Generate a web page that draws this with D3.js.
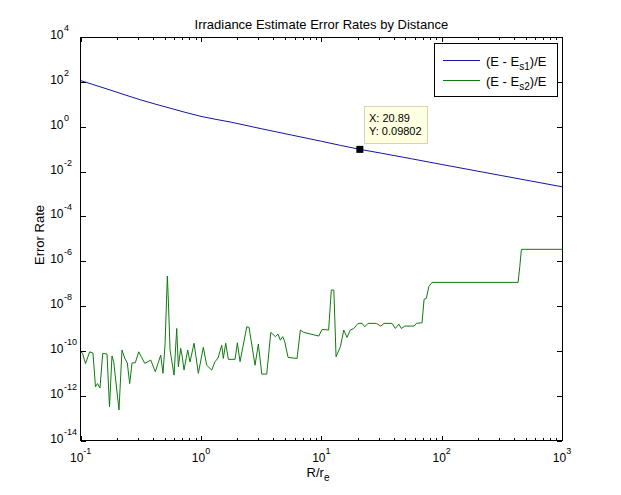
<!DOCTYPE html>
<html><head><meta charset="utf-8">
<script src="https://cdn.jsdelivr.net/npm/d3@7"></script>
<style>
body{margin:0;background:#fff}
text{font-family:"Liberation Sans",Arial,sans-serif;fill:#000}
</style>
</head><body><svg id="c" width="621" height="495"></svg>
<script>
// ---------- data ----------
const titleText = "Irradiance Estimate Error Rates by Distance";
const xTickExps = [-1, 0, 1, 2, 3];
const yTickExps = [4, 2, 0, -2, -4, -6, -8, -10, -12, -14];

const blueX = [0.1, 0.178, 0.316, 0.562, 1, 1.78, 3.16, 5.62, 10, 20.89, 31.6, 100, 316, 1000];
const blueY = [115, 42.6, 15.7, 6.6, 2.9, 1.6, 0.82, 0.43, 0.225, 0.09802, 0.066, 0.0208, 0.0066, 0.0021];

const greenX = [0.1, 0.1035, 0.1096, 0.1188, 0.1265, 0.1327, 0.138, 0.1446, 0.1524, 0.1655, 0.1735, 0.182, 0.188, 0.208, 0.2204, 0.232, 0.2439, 0.2554, 0.267, 0.2844, 0.3034, 0.319, 0.3404, 0.3624, 0.382, 0.417, 0.4395, 0.4624, 0.483, 0.502, 0.525, 0.535, 0.553, 0.597, 0.628, 0.648, 0.678, 0.699, 0.722, 0.775, 0.81, 0.875, 0.95, 1.045, 1.115, 1.227, 1.307, 1.385, 1.486, 1.532, 1.604, 1.687, 1.918, 2.004, 2.11, 2.40, 2.506, 2.81, 2.995, 3.20, 3.516, 3.80, 4.15, 4.365, 4.56, 4.775, 4.965, 5.29, 6.28, 6.69, 7.14, 9.52, 10.14, 11.5, 12.1, 12.7, 13.25, 14.4, 15.35, 16.35, 17.4, 18.6, 20.2, 21.8, 22.95, 24.45, 28.65, 31.2, 33.2, 38.7, 41.2, 44.0, 46.2, 49.3, 59.0, 61.7, 68.7, 71.4, 74.6, 78.1, 83.2, 431.5, 445.7, 459.8, 1000];
const greenY = [8.8e-11, 8.0e-11, 2.7e-11, 9.1e-11, 8.0e-11, 2.5e-12, 3.5e-12, 2.2e-12, 7.7e-11, 7.2e-11, 3.2e-13, 5.9e-11, 3.3e-11, 2.3e-13, 1.09e-10, 4.8e-11, 2.9e-11, 3.5e-12, 2.9e-11, 2.95e-11, 9.1e-11, 5.5e-11, 2.8e-11, 3.3e-11, 3.9e-11, 1.17e-11, 2.8e-11, 6.5e-11, 9.9e-12, 1.8e-10, 2.2e-7, 1.85e-8, 1.09e-10, 8.3e-12, 1.0e-9, 1.95e-11, 1.3e-10, 5.3e-11, 1.39e-11, 1.09e-10, 3.2e-11, 2.2e-10, 9.9e-12, 1.44e-10, 2.3e-11, 1.39e-11, 3.3e-11, 4.8e-11, 1.8e-10, 4.6e-11, 2.2e-10, 4.2e-11, 4.2e-11, 2.3e-10, 3.3e-11, 1.19e-9, 1.12e-9, 2.3e-11, 2.0e-10, 9.2e-12, 9.2e-12, 6.7e-10, 4.3e-10, 5.6e-10, 3.0e-10, 4.3e-10, 2.55e-10, 5.1e-11, 4.6e-11, 8.5e-10, 6.7e-10, 4.6e-10, 9.1e-10, 8.5e-10, 5.2e-8, 5.2e-8, 5.5e-11, 1.53e-10, 8.5e-10, 4.0e-10, 8.5e-10, 1.0e-9, 1.69e-9, 1.69e-9, 1.19e-9, 1.69e-9, 1.69e-9, 1.28e-9, 1.69e-9, 1.69e-9, 1.0e-9, 1.57e-9, 1.0e-9, 1.28e-9, 1.28e-9, 1.69e-9, 1.8e-9, 2.0e-8, 2.2e-8, 7.3e-8, 1.14e-7, 1.14e-7, 5.7e-7, 3.4e-6, 3.4e-6];

const tipX = 20.89;
const tipY = 0.09802;

// ---------- layout ----------
const L = 80.7, R = 562, T = 37.1, B = 440.55;
const blueColor = "#1414a0", greenColor = "#0f7a0f";

const svg = d3.select("#c");
svg.append("rect").attr("width", 621).attr("height", 495).attr("fill", "#fff");

const x = d3.scaleLog().domain([0.1, 1000]).range([L, R]);
const y = d3.scaleLog().domain([1e-14, 1e4]).range([B, T]);

const xMajor = xTickExps.map(e => Math.pow(10, e));
const xMinor = [];
for (let e = -1; e < 3; e++) for (let k = 2; k <= 9; k++) xMinor.push(k * Math.pow(10, e));
const yMajor = yTickExps.map(e => Math.pow(10, e));

// ---------- lines ----------
svg.append("clipPath").attr("id", "pc").append("rect")
  .attr("x", L).attr("y", T).attr("width", R - L).attr("height", B - T);
const plot = svg.append("g").attr("clip-path", "url(#pc)");

const blueLine = d3.line().x(d => x(d[0])).y(d => y(d[1])).curve(d3.curveMonotoneX);
plot.append("path").datum(blueX.map((v, i) => [v, blueY[i]]))
  .attr("d", blueLine).attr("fill", "none").attr("stroke", blueColor).attr("stroke-width", 1);

const greenLine = d3.line().x(d => x(d[0])).y(d => y(d[1]));
plot.append("path").datum(greenX.map((v, i) => [v, greenY[i]]))
  .attr("d", greenLine).attr("fill", "none").attr("stroke", greenColor).attr("stroke-width", 1);

// ---------- axes (ticks inside) ----------
function ticks(axis, tx, ty) {
  const g = svg.append("g").attr("transform", `translate(${tx},${ty})`).call(axis);
  g.select(".domain").remove();
  g.selectAll("line").attr("stroke", "#000").attr("shape-rendering", "crispEdges");
  g.selectAll("text").remove();
}
ticks(d3.axisBottom(x).tickValues(xMajor).tickSize(-5).tickFormat(""), 0, B);
ticks(d3.axisBottom(x).tickValues(xMinor).tickSize(-3).tickFormat(""), 0, B);
ticks(d3.axisTop(x).tickValues(xMajor).tickSize(-5).tickFormat(""), 0, T);
ticks(d3.axisTop(x).tickValues(xMinor).tickSize(-3).tickFormat(""), 0, T);
ticks(d3.axisLeft(y).tickValues(yMajor).tickSize(-5).tickFormat(""), L, 0);
ticks(d3.axisRight(y).tickValues(yMajor).tickSize(-5).tickFormat(""), R, 0);

svg.append("rect").attr("x", L).attr("y", T).attr("width", R - L).attr("height", B - T)
  .attr("fill", "none").attr("stroke", "#000").attr("stroke-width", 1).attr("shape-rendering", "crispEdges");

// tick labels
xTickExps.forEach(e => {
  const t = svg.append("text").attr("x", x(Math.pow(10, e))).attr("y", B + 21)
    .attr("text-anchor", "middle").attr("font-size", 12);
  t.append("tspan").text("10");
  t.append("tspan").attr("dy", -8).attr("font-size", 9).text(e);
});
yTickExps.forEach(e => {
  const yy = y(Math.pow(10, e));
  svg.append("text").attr("x", 63.5).attr("y", yy + 2).attr("text-anchor", "end")
    .attr("font-size", 12).text("10");
  svg.append("text").attr("x", 64).attr("y", yy - 6).attr("text-anchor", "start")
    .attr("font-size", 9).text(e);
});

// axis titles
const xl = svg.append("text").attr("x", 318).attr("y", 476.5).attr("text-anchor", "middle").attr("font-size", 13);
xl.append("tspan").text("R/r");
xl.append("tspan").attr("dy", 4).attr("font-size", 10).text("e");

svg.append("text").attr("transform", "translate(44,235) rotate(-90)")
  .attr("text-anchor", "middle").attr("font-size", 13).text("Error Rate");

svg.append("text").attr("x", (L + R) / 2).attr("y", 29).attr("text-anchor", "middle")
  .attr("font-size", 13).text(titleText);

// ---------- legend ----------
const lg = svg.append("g");
lg.append("rect").attr("x", 434.5).attr("y", 43.5).attr("width", 123).attr("height", 53)
  .attr("fill", "#fff").attr("stroke", "#000").attr("shape-rendering", "crispEdges");
const entries = [["s1", blueColor, 60.5], ["s2", greenColor, 80.5]];
entries.forEach(([sub, col, ly]) => {
  lg.append("line").attr("x1", 443).attr("x2", 480).attr("y1", ly).attr("y2", ly)
    .attr("stroke", col).attr("stroke-width", 1);
  const t = lg.append("text").attr("x", 486).attr("y", ly + 5).attr("font-size", 13);
  t.append("tspan").text("(E - E");
  t.append("tspan").attr("dy", 4).attr("font-size", 10).text(sub);
  t.append("tspan").attr("dy", -4).text(")/E");
});

// ---------- datatip ----------
const px = x(tipX), py = y(tipY);
svg.append("rect").attr("x", px - 3.5).attr("y", py - 3.5).attr("width", 7).attr("height", 7).attr("fill", "#000");
const tg = svg.append("g");
tg.append("rect").attr("x", 364.5).attr("y", 106.5).attr("width", 63).attr("height", 37)
  .attr("fill", "#ffffe1").attr("stroke", "#d6d6b4").attr("shape-rendering", "crispEdges");
tg.append("text").attr("x", 369).attr("y", 121.5).attr("font-size", 11).text("X: " + tipX);
tg.append("text").attr("x", 369).attr("y", 135).attr("font-size", 11).text("Y: " + tipY);
</script>
</body></html>
